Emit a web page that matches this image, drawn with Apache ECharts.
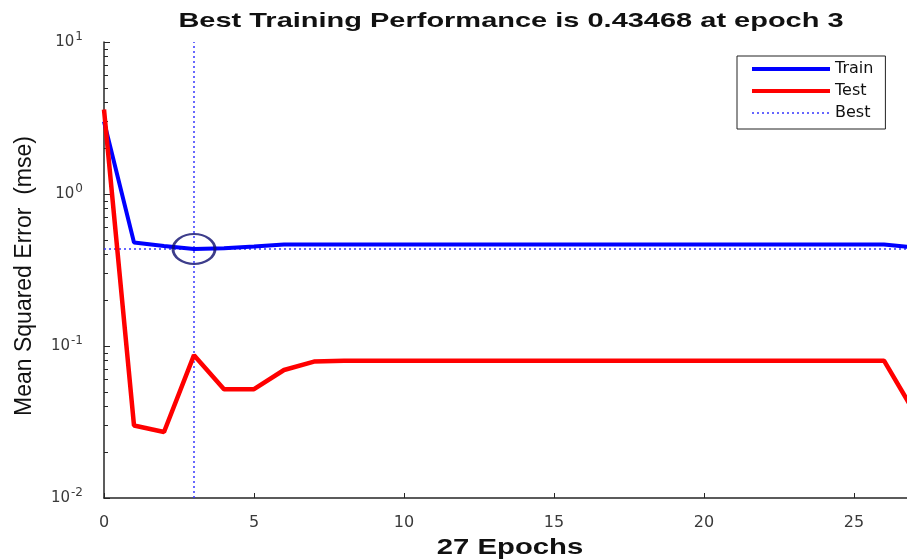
<!DOCTYPE html>
<html>
<head>
<meta charset="utf-8">
<script src="https://cdn.jsdelivr.net/npm/echarts@6/dist/echarts.min.js"></script>
<style>
  html, body { margin: 0; padding: 0; background: #fff; }
  #main { width: 907px; height: 560px; }
</style>
</head>
<body>
<div id="main"></div>
<script>
const epochs = [0, 1, 2, 3, 4, 5, 6, 7, 8, 9, 10, 11, 12, 13, 14, 15, 16, 17, 18, 19, 20, 21, 22, 23, 24, 25, 26, 27]
const train = [
  3.0, 0.48, 0.455, 0.43468, 0.44, 0.452, 0.466, 0.466, 0.466, 0.466,
  0.466, 0.466, 0.466, 0.466, 0.466, 0.466, 0.466, 0.466, 0.466, 0.466,
  0.466, 0.466, 0.466, 0.466, 0.466, 0.466, 0.466, 0.445,
]
const test = [
  3.6, 0.030, 0.0272, 0.087, 0.052, 0.052, 0.0695, 0.079, 0.080, 0.080,
  0.080, 0.080, 0.080, 0.080, 0.080, 0.080, 0.080, 0.080, 0.080, 0.080,
  0.080, 0.080, 0.080, 0.080, 0.080, 0.080, 0.080, 0.037,
]
const bestEpoch = 3
const bestPerf = 0.43468
const xTicks = [0, 5, 10, 15, 20, 25]
const yTicks = [0.01, 0.1, 1, 10]
const yMinorTicks = [
  0.02, 0.03, 0.04, 0.05, 0.06, 0.07, 0.08, 0.09,
  0.2, 0.3, 0.4, 0.5, 0.6, 0.7, 0.8, 0.9,
  2, 3, 4, 5, 6, 7, 8, 9,
]

const chart = echarts.init(document.getElementById('main'))

const axisColor = '#262626'
const labelColor = '#3a3a3a'
const bestStyle = { color: '#3535ff', width: 1.5, type: [2, 3] }

const option = {
  backgroundColor: '#fff',
  animation: false,
  grid: {
    left: 104,
    width: 810,
    top: 42,
    bottom: 62,
    outerBoundsMode: 'none',
  },
  graphic: [
    {
      type: 'text',
      x: 511,
      y: 21,
      scaleX: 1.38,
      style: {
        text: 'Best Training Performance is ' + bestPerf + ' at epoch ' + bestEpoch,
        font: 'bold 21px "Liberation Sans"',
        fill: '#111',
        align: 'center',
        verticalAlign: 'middle',
      },
    },
    {
      type: 'text',
      x: 510,
      y: 548,
      scaleX: 1.33,
      style: {
        text: (epochs.length - 1) + ' Epochs',
        font: 'bold 22px "Liberation Sans"',
        fill: '#111',
        align: 'center',
        verticalAlign: 'middle',
      },
    },
    {
      type: 'text',
      x: 25,
      y: 276,
      rotation: Math.PI / 2,
      style: {
        text: 'Mean Squared Error  (mse)',
        font: '23px "Liberation Sans"',
        fill: '#111',
        align: 'center',
        verticalAlign: 'middle',
      },
    },
  ],
  legend: {
    orient: 'vertical',
    left: 737,
    top: 56,
    data: [
      { name: 'Train', lineStyle: { width: 4 } },
      { name: 'Test', lineStyle: { width: 4 } },
      { name: 'Best', lineStyle: { width: 1.5 } },
    ],
    itemWidth: 78,
    itemHeight: 14,
    itemGap: 6,
    padding: [5, 12, 8, 13],
    borderColor: '#222',
    borderWidth: 1,
    backgroundColor: '#fff',
    itemStyle: { opacity: 0 },
    textStyle: {
      fontFamily: 'DejaVu Sans',
      fontSize: 16,
      color: '#111',
    },
  },
  xAxis: {
    type: 'value',
    min: 0,
    max: epochs.length - 1,
    interval: 5,
    axisLine: { lineStyle: { color: axisColor, width: 1.5 } },
    axisTick: { inside: true, length: 5, customValues: xTicks, lineStyle: { color: axisColor } },
    axisLabel: {
      customValues: xTicks,
      margin: 17,
      color: labelColor,
      fontFamily: 'DejaVu Sans',
      fontSize: 16,
    },
    splitLine: { show: false },
  },
  yAxis: [
    {
      type: 'log',
      logBase: 10,
      min: 0.01,
      max: 10,
      axisLine: { show: true, lineStyle: { color: axisColor, width: 1.5 } },
      axisTick: { inside: true, length: 6, customValues: yTicks, lineStyle: { color: axisColor } },
      axisLabel: {
        customValues: yTicks,
        margin: 21,
        formatter(v) {
          return '{b|10}{s|' + Math.round(Math.log10(v)) + '}'
        },
        rich: {
          b: { fontFamily: 'DejaVu Sans', fontSize: 15, color: labelColor },
          s: { fontFamily: 'DejaVu Sans', fontSize: 12, color: labelColor, padding: [0, 0, 11, 1] },
        },
      },
      splitLine: { show: false },
    },
    {
      type: 'log',
      logBase: 10,
      min: 0.01,
      max: 10,
      position: 'left',
      axisLine: { show: false },
      axisTick: { inside: true, length: 4, customValues: yMinorTicks, lineStyle: { color: axisColor } },
      axisLabel: { show: false },
      splitLine: { show: false },
    },
  ],
  series: [
    {
      name: 'Best',
      type: 'line',
      symbol: 'none',
      lineStyle: bestStyle,
      data: [[bestEpoch, 0.01], [bestEpoch, 10]],
      z: 1,
    },
    {
      name: 'Best',
      type: 'line',
      symbol: 'none',
      lineStyle: bestStyle,
      data: [[0, bestPerf], [epochs.length - 1, bestPerf]],
      z: 1,
    },
    {
      name: 'Train',
      type: 'line',
      symbol: 'none',
      color: '#0000ff',
      lineStyle: { width: 4, color: '#0000ff' },
      data: epochs.map((e, i) => [e, train[i]]),
      z: 2,
    },
    {
      name: 'Test',
      type: 'line',
      symbol: 'none',
      color: '#ff0000',
      lineStyle: { width: 4.5, color: '#ff0000' },
      data: epochs.map((e, i) => [e, test[i]]),
      z: 3,
    },
    {
      name: 'bestPoint',
      type: 'scatter',
      symbol: 'circle',
      symbolSize: [42, 30],
      silent: true,
      itemStyle: { color: 'rgba(0,0,0,0)', borderColor: '#0c0c6e', borderWidth: 2.5 },
      data: [[bestEpoch, bestPerf]],
      z: 4,
    },
  ],
}

chart.setOption(option)
</script>
</body>
</html>
